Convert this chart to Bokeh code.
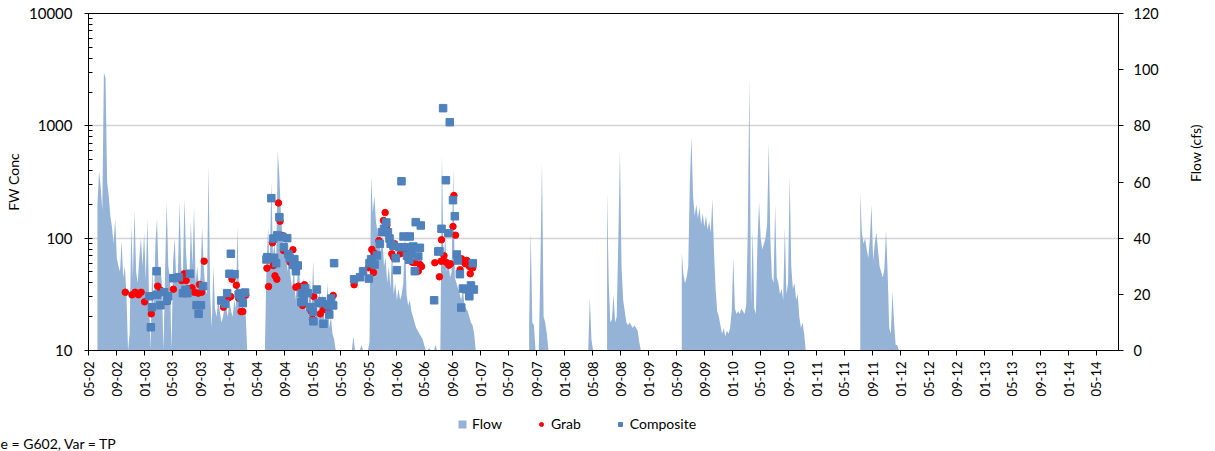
import numpy as np
import pandas as pd
from bokeh.plotting import figure
from bokeh.layouts import column
from bokeh.models import (Range1d, LinearAxis, LinearScale, FixedTicker, DatetimeTickFormatter,
                          Legend, LegendItem, Title, BasicTickFormatter)
from bokeh.embed import file_html
from bokeh.resources import INLINE

FONT = "Lato"

# ---------------- data ----------------
grab_dates = ["2002-10-08", "2002-11-06", "2002-11-20", "2002-12-04", "2002-12-16", "2002-12-31",
              "2003-01-29", "2003-02-26", "2003-03-12", "2003-04-07", "2003-05-05", "2003-06-10",
              "2003-06-21", "2003-06-30", "2003-07-08", "2003-07-25", "2003-08-04", "2003-08-21",
              "2003-08-27", "2003-09-05", "2003-09-16", "2003-12-09", "2003-12-31", "2004-01-09",
              "2004-01-15", "2004-02-03", "2004-02-13", "2004-02-23", "2004-03-02", "2004-03-15",
              "2004-06-15", "2004-06-22", "2004-07-09", "2004-07-13", "2004-07-20", "2004-07-28",
              "2004-08-04", "2004-08-11", "2004-08-21", "2004-08-26", "2004-09-24", "2004-10-06",
              "2004-10-16", "2004-10-19", "2004-10-30", "2004-11-17", "2004-11-25", "2004-12-24",
              "2004-12-30", "2005-01-05", "2005-02-02", "2005-02-15", "2005-03-08", "2005-03-30",
              "2005-06-29", "2005-08-31", "2005-09-14", "2005-09-21", "2005-09-24", "2005-10-15",
              "2005-11-04", "2005-11-11", "2005-11-18", "2005-11-30", "2005-12-10", "2005-12-17",
              "2005-12-22", "2006-01-16", "2006-01-26", "2006-02-14", "2006-03-09", "2006-03-20",
              "2006-04-04", "2006-04-11", "2006-04-18", "2006-06-15", "2006-07-05", "2006-07-12",
              "2006-07-14", "2006-07-25", "2006-08-03", "2006-08-15", "2006-08-22", "2006-09-02",
              "2006-09-06", "2006-09-13", "2006-10-03", "2006-10-09", "2006-10-15", "2006-10-26",
              "2006-11-01", "2006-11-13", "2006-11-16", "2006-11-27"]
grab_values = [33.0, 31.3, 33.0, 31.3, 33.0, 27.1,
               21.2, 37.4, 34.2, 27.3, 35.1, 42.0,
               48.2, 42.0, 35.4, 36.1, 33.0, 32.4,
               38.7, 33.0, 62.4, 24.3, 29.4, 30.2,
               43.1, 38.1, 29.2, 22.2, 22.2, 31.1,
               54.0, 37.1, 91.0, 57.1, 46.2, 43.1,
               206, 141.6, 105.6, 77.7, 61.1, 78.8,
               53.4, 36.6, 37.4, 25.2, 38.5, 22.4,
               19.0, 30.2, 21.2, 23.0, 22.7, 30.9,
               38.5, 54.5, 79.3, 49.5, 73.5, 95.3,
               143.7, 169, 129.7, 100.8, 72.6, 67.7,
               89.1, 72.6, 76.1, 76.6, 61.1, 60.4,
               50.8, 58.3, 55.9, 60.4, 45.3, 62.4,
               96.7, 69.7, 61.1, 57.4, 59.1, 127,
               240, 106.3, 52.3, 65.5, 62.4, 59.1,
               63.3, 55.9, 48.2, 54.5]

comp_dates = ["2003-01-21", "2003-01-27", "2003-02-01", "2003-02-21", "2003-02-22", "2003-03-10",
              "2003-03-26", "2003-04-07", "2003-04-13", "2003-05-05", "2003-05-29", "2003-06-16",
              "2003-06-27", "2003-07-05", "2003-07-16", "2003-08-14", "2003-08-23", "2003-09-02",
              "2003-09-11", "2003-11-29", "2003-12-16", "2003-12-25", "2004-01-04", "2004-01-10",
              "2004-01-26", "2004-02-13", "2004-02-20", "2004-02-23", "2004-03-02", "2004-03-12",
              "2004-06-13", "2004-06-16", "2004-07-04", "2004-07-13", "2004-07-16", "2004-07-25",
              "2004-07-30", "2004-08-08", "2004-08-21", "2004-08-28", "2004-09-11", "2004-09-16",
              "2004-09-22", "2004-10-08", "2004-10-12", "2004-10-19", "2004-10-27", "2004-11-12",
              "2004-11-14", "2004-11-23", "2004-11-28", "2004-12-10", "2004-12-21", "2005-01-01",
              "2005-01-03", "2005-01-18", "2005-01-25", "2005-02-09", "2005-02-16", "2005-03-05",
              "2005-03-12", "2005-03-13", "2005-03-21", "2005-03-30", "2005-04-03", "2005-06-29",
              "2005-07-25", "2005-08-07", "2005-09-01", "2005-09-04", "2005-09-11", "2005-09-26",
              "2005-10-06", "2005-10-19", "2005-10-28", "2005-11-06", "2005-11-16", "2005-11-23",
              "2005-11-30", "2005-12-05", "2005-12-17", "2005-12-27", "2006-01-01", "2006-01-11",
              "2006-01-21", "2006-01-30", "2006-02-06", "2006-02-14", "2006-02-24", "2006-02-26",
              "2006-03-06", "2006-03-13", "2006-03-20", "2006-03-24", "2006-04-04", "2006-04-11",
              "2006-04-15", "2006-06-12", "2006-06-30", "2006-07-05", "2006-07-14", "2006-07-21",
              "2006-08-02", "2006-08-13", "2006-08-19", "2006-09-02", "2006-09-10", "2006-09-19",
              "2006-09-23", "2006-10-02", "2006-10-08", "2006-10-15", "2006-10-30", "2006-11-12",
              "2006-11-19", "2006-11-27", "2006-12-02"]
comp_values = [30.4, 16.1, 24.3, 50.8, 31.3, 25.3,
               33.0, 27.9, 30.4, 44.0, 44.9, 32.4,
               34.7, 32.4, 48.2, 25.3, 21.2, 25.3,
               37.4, 27.9, 26.0, 32.4, 48.2, 72.6,
               47.8, 31.5, 32.4, 29.8, 26.4, 32.8,
               64.6, 67.7, 227, 99.3, 66.9, 59.9,
               106.3, 153.7, 102.8, 83.1, 100, 72.0,
               66.3, 57.9, 65.0, 50.8, 57.1, 26.9,
               32.4, 27.9, 35.9, 32.4, 24.3, 22.2,
               18.2, 34.9, 26.4, 27.5, 17.3, 25.7,
               25.2, 20.9, 29.0, 25.2, 59.9, 43.1,
               44.9, 50.8, 43.7, 59.9, 65.0, 58.3,
               70.1, 89.1, 113, 121.2, 137.9, 113,
               99.3, 89.1, 85.5, 66.3, 51.9, 83.1,
               321, 103.5, 83.1, 69.7, 64.2, 103.5,
               72.6, 84.3, 50.8, 138.8, 68.7, 82.1,
               129.7, 28.0, 76.1, 76.6, 121.2, 1436,
               328, 110.7, 1077, 218, 156.9, 71.5,
               63.3, 47.8, 24.1, 35.6, 35.1, 30.4,
               37.9, 59.9, 34.9]

# Flow (cfs): weekly readings, one list per flow period
flow_step_days = 7
flow_starts = ["2002-06-09", "2007-07-30", "2008-04-12", "2008-07-03", "2009-05-24", "2011-07-09"]
flow_2002 = [52, 64, 58, 50, 99, 97, 60, 55, 48, 44,
             38, 47, 33, 30, 28, 39, 26, 30, 20, 0,
             6, 45, 26, 50, 28, 24, 33, 40, 30, 42,
             25, 47, 20, 0, 30, 14, 38, 47, 26, 30,
             24, 0, 28, 53, 30, 26, 0, 32, 40, 24,
             28, 53, 30, 24, 54, 35, 26, 22, 46, 30,
             51, 24, 30, 22, 26, 44, 30, 22, 20, 66,
             20, 8, 30, 15, 12, 18, 14, 10, 12, 16,
             15, 12, 18, 14, 12, 18, 15, 44, 16, 14,
             18, 12, 14, 0, 0, 0, 0, 0, 0, 0,
             0, 0, 0, 0, 0, 30, 44, 28, 60, 34,
             38, 30, 71, 62, 48, 40, 35, 41, 28, 33,
             26, 22, 30, 18, 24, 33, 20, 16, 26, 14,
             18, 12, 26, 14, 32, 12, 18, 10, 22, 12,
             20, 10, 14, 24, 8, 12, 6, 4, 0, 0,
             0, 0, 0, 0, 0, 0, 0, 0, 0, 5,
             0, 0, 0, 0, 2, 0, 0, 0, 0, 3,
             62, 49, 55, 46, 42, 38, 35, 41, 30, 33,
             24, 30, 22, 36, 20, 24, 18, 22, 18, 20,
             24, 42, 20, 16, 18, 14, 12, 10, 8, 7,
             6, 5, 4, 2, 0, 0, 1, 0, 0, 0,
             2, 0, 0, 0, 70, 30, 41, 28, 32, 26,
             28, 65, 26, 24, 22, 20, 18, 22, 16, 15,
             14, 12, 10, 9, 6, 0]
flow_2007 = [9, 42, 10, 9, 0, 0, 0, 30, 67, 12, 10, 6, 0]
flow_2008a = [0, 19, 4, 0]
flow_2008b = [57, 25, 10, 11, 20, 10, 12, 40, 71, 30, 18, 14, 10, 9, 10, 9, 8, 9, 8, 7, 3, 0]
flow_2009 = [35, 27, 24, 26, 30, 60, 76, 55, 48, 52,
             47, 51, 45, 49, 44, 48, 43, 46, 42, 54,
             35, 22, 14, 12, 9, 6, 8, 5, 7, 6,
             8, 14, 33, 15, 13, 14, 13, 15, 14, 13,
             16, 43, 97, 16, 43, 15, 13, 38, 53, 40,
             36, 38, 40, 45, 74, 40, 26, 24, 52, 26,
             24, 20, 22, 18, 44, 20, 24, 62, 30, 22,
             24, 18, 20, 12, 8, 10, 6, 0]
flow_2011 = [56, 42, 38, 40, 36, 33, 40, 52, 32, 38, 42, 36, 30, 28, 26, 29, 43, 28, 8, 6,
             21, 10, 2, 2, 0]
flow_segments = [flow_2002, flow_2007, flow_2008a, flow_2008b, flow_2009, flow_2011]

x_start, x_end = "2002-05-01", "2014-08-05"
tick_first, tick_last, tick_freq = "2002-05-01", "2014-05-01", "4MS"

legend_labels = ["Flow", "Grab", "Composite"]
note_text = "e = G602, Var = TP"

# ---------------- figure ----------------
FLOW_C = "#95B3D7"
GRAB_C = "#FF0000"
COMP_C = "#4F81BD"
W = 1215

p = figure(width=W, height=400, x_axis_type="datetime", y_axis_type="log",
           x_range=Range1d(pd.Timestamp(x_start), pd.Timestamp(x_end)),
           y_range=Range1d(10, 10000),
           output_backend="svg", toolbar_location=None,
           min_border_left=88, min_border_right=94, min_border_top=13, min_border_bottom=50)
p.title.visible = False
p.extra_y_ranges = {"flow": Range1d(0, 120)}
p.extra_y_scales = {"flow": LinearScale()}
p.outline_line_color = "#000000"
p.xgrid.visible = False

# flow areas
for start, vals in zip(flow_starts, flow_segments):
    xs = pd.Timestamp(start) + pd.to_timedelta(np.arange(len(vals)) * flow_step_days, unit="D")
    p.varea(x=xs, y1=np.zeros(len(vals)), y2=vals, y_range_name="flow",
            fill_color=FLOW_C, fill_alpha=1.0)

p.scatter(x=pd.to_datetime(grab_dates), y=grab_values, marker="circle",
          size=6.5, fill_color=GRAB_C, line_color=GRAB_C)
p.scatter(x=pd.to_datetime(comp_dates), y=comp_values, marker="square",
          size=7.5, fill_color=COMP_C, line_color=COMP_C)

# x axis
ticks = pd.date_range(tick_first, tick_last, freq=tick_freq)
tick_ms = [t.value // 10**6 for t in ticks]
xa = p.xaxis[0]
xa.ticker = FixedTicker(ticks=tick_ms)
fmt = "%m-%y"
xa.formatter = DatetimeTickFormatter(milliseconds=fmt, seconds=fmt, minsec=fmt, minutes=fmt,
                                     hourmin=fmt, hours=fmt, days=fmt, months=fmt, years=fmt)
xa.major_label_orientation = np.pi / 2
xa.major_label_text_font = FONT
xa.major_label_text_font_size = "13px"
xa.major_label_text_color = "#000000"
xa.major_label_standoff = 6
xa.major_tick_out = 5
xa.major_tick_in = 0
xa.minor_tick_out = 0
xa.minor_tick_in = 0
xa.axis_line_color = "#000000"
xa.major_tick_line_color = "#000000"

# left axis (log)
ya = p.yaxis[0]
minor = [m * d for d in (10, 100, 1000) for m in range(2, 10)]
ya.ticker = FixedTicker(ticks=[10, 100, 1000, 10000], minor_ticks=minor)
ya.formatter = BasicTickFormatter(use_scientific=False)
ya.axis_label = "FW Conc"
ya.axis_label_text_font = FONT
ya.axis_label_text_font_size = "14px"
ya.axis_label_text_font_style = "normal"
ya.axis_label_text_color = "#000000"
ya.axis_label_standoff = 4
ya.major_label_text_font = FONT
ya.major_label_text_font_size = "15px"
ya.major_label_text_color = "#000000"
ya.major_label_standoff = 12
ya.major_tick_out = 4
ya.major_tick_in = 4
ya.minor_tick_in = 4
ya.minor_tick_out = 0
ya.axis_line_color = "#000000"
ya.major_tick_line_color = "#000000"
ya.minor_tick_line_color = "#000000"

p.ygrid.grid_line_color = "#D3D3D3"
p.ygrid.grid_line_width = 1.5

# right axis (flow)
ra = LinearAxis(y_range_name="flow", ticker=FixedTicker(ticks=[0, 20, 40, 60, 80, 100, 120]),
                axis_label="Flow (cfs)")
ra.axis_label_orientation = np.pi / 2
ra.axis_label_text_font = FONT
ra.axis_label_text_font_size = "14px"
ra.axis_label_text_font_style = "normal"
ra.axis_label_text_color = "#000000"
ra.axis_label_standoff = 34
ra.major_label_text_font = FONT
ra.major_label_text_font_size = "14.5px"
ra.major_label_text_color = "#000000"
ra.major_label_standoff = 10
ra.major_tick_out = 5
ra.major_tick_in = 0
ra.minor_tick_in = 0
ra.minor_tick_out = 0
ra.axis_line_color = "#000000"
ra.major_tick_line_color = "#000000"
p.add_layout(ra, "right")

# ---------------- legend strip ----------------
p2 = figure(width=W, height=51, x_range=Range1d(0, 1), y_range=Range1d(0, 1),
            output_backend="svg", toolbar_location=None,
            x_axis_location=None, y_axis_location=None,
            min_border_left=88, min_border_right=94, min_border_top=0, min_border_bottom=0)
p2.title.visible = False
p2.outline_line_color = None
p2.xgrid.visible = False
p2.ygrid.visible = False
lf = p2.varea(x=[-10, -9], y1=[-10, -10], y2=[-9, -9], fill_color=FLOW_C, fill_alpha=1.0)
lg = p2.scatter(x=[-10], y=[-10], marker="circle", size=6.5, fill_color=GRAB_C, line_color=GRAB_C)
lc = p2.scatter(x=[-10], y=[-10], marker="square", size=7.5, fill_color=COMP_C, line_color=COMP_C)
legend = Legend(items=[LegendItem(label=legend_labels[0], renderers=[lf]),
                       LegendItem(label=legend_labels[1], renderers=[lg]),
                       LegendItem(label=legend_labels[2], renderers=[lc])],
                orientation="horizontal", location=(369, 0),
                glyph_width=10, glyph_height=10, label_standoff=5, spacing=34,
                padding=0, margin=0, border_line_color=None, background_fill_alpha=0,
                label_text_font=FONT, label_text_font_size="14px", label_text_color="#000000",
                label_height=10)
p2.add_layout(legend, "center")

note = Title(text=note_text, align="left", offset=-88, standoff=0,
             text_font=FONT, text_font_size="14px", text_font_style="normal",
             text_color="#000000")
p2.add_layout(note, "below")

layout = column(p, p2, spacing=0)
open("out.html", "w").write(file_html(layout, INLINE))
